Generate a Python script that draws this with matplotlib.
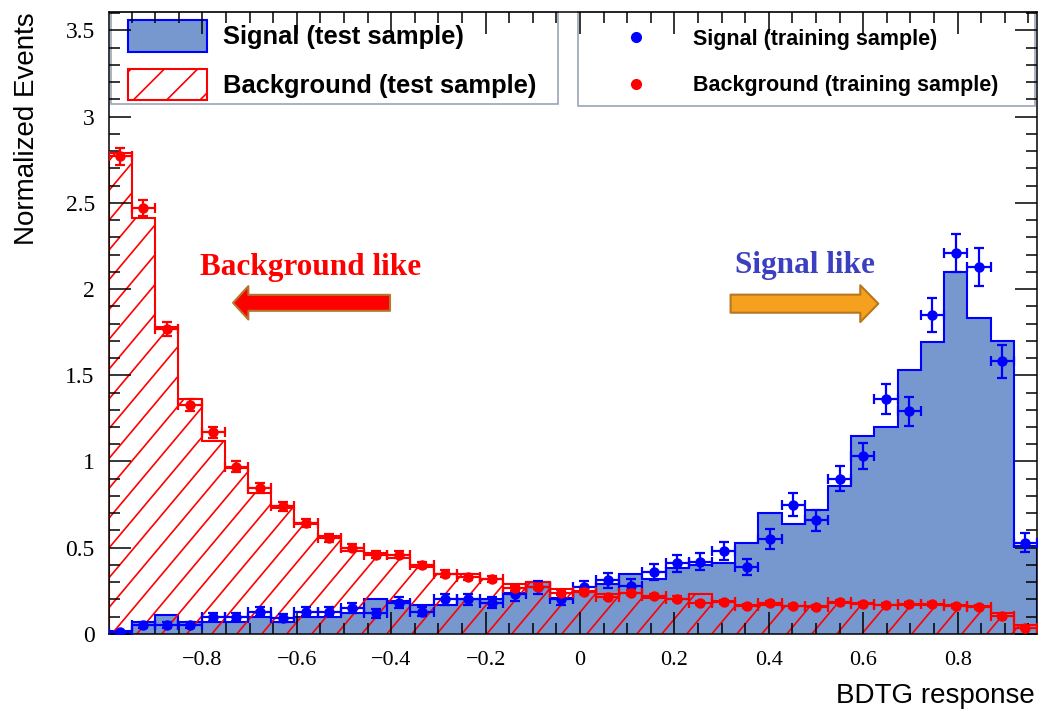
import numpy as np
import matplotlib
matplotlib.use('Agg')
import matplotlib.pyplot as plt
from matplotlib.collections import LineCollection
from matplotlib.patches import Patch, Rectangle
from matplotlib.lines import Line2D
from matplotlib.ticker import MultipleLocator, FuncFormatter

# BDTG response range and binning
x_min, x_max = -0.9985, 0.968
n_bins = 40

# test samples (histograms)
sig_test = [0.02, 0.07, 0.11, 0.07, 0.07, 0.07, 0.10, 0.07, 0.10, 0.10,
            0.12, 0.20, 0.19, 0.17, 0.17, 0.20, 0.20, 0.24, 0.30, 0.21,
            0.25, 0.29, 0.35, 0.32, 0.38, 0.40, 0.41, 0.53, 0.70, 0.64,
            0.72, 0.86, 1.15, 1.20, 1.53, 1.69, 2.10, 1.83, 1.70, 0.51]
bkg_test = [2.79, 2.41, 1.78, 1.36, 1.12, 0.96, 0.82, 0.73, 0.64, 0.57,
            0.48, 0.47, 0.44, 0.39, 0.35, 0.35, 0.32, 0.29, 0.30, 0.26,
            0.25, 0.23, 0.24, 0.21, 0.20, 0.23, 0.19, 0.17, 0.17, 0.16,
            0.16, 0.18, 0.18, 0.17, 0.17, 0.17, 0.17, 0.16, 0.12, 0.05]

# training samples (points with errors)
sig_train = [0.01, 0.05, 0.05, 0.05, 0.10, 0.10, 0.13, 0.09, 0.13, 0.13,
             0.15, 0.12, 0.18, 0.13, 0.20, 0.20, 0.18, 0.23, 0.27, 0.20,
             0.27, 0.31, 0.28, 0.36, 0.41, 0.42, 0.48, 0.39, 0.55, 0.75,
             0.66, 0.90, 1.03, 1.36, 1.29, 1.85, 2.21, 2.13, 1.58, 0.53]
sig_train_err = [0.010, 0.017, 0.017, 0.017, 0.024, 0.024, 0.027, 0.023, 0.027, 0.027,
                 0.029, 0.026, 0.032, 0.027, 0.034, 0.034, 0.032, 0.036, 0.039, 0.034,
                 0.039, 0.042, 0.040, 0.045, 0.048, 0.049, 0.052, 0.047, 0.056, 0.065,
                 0.061, 0.071, 0.076, 0.087, 0.085, 0.100, 0.110, 0.110, 0.094, 0.055]
bkg_train = [2.77, 2.47, 1.77, 1.33, 1.17, 0.97, 0.845, 0.74, 0.645, 0.555,
             0.50, 0.46, 0.46, 0.40, 0.35, 0.33, 0.32, 0.265, 0.275, 0.24,
             0.245, 0.215, 0.24, 0.22, 0.205, 0.18, 0.185, 0.16, 0.18, 0.16,
             0.155, 0.185, 0.175, 0.17, 0.175, 0.175, 0.16, 0.155, 0.105, 0.035]
bkg_train_err = [0.050, 0.047, 0.040, 0.035, 0.032, 0.030, 0.028, 0.026, 0.024, 0.022,
                 0.021, 0.020, 0.020, 0.019, 0.018, 0.017, 0.017, 0.016, 0.016, 0.015,
                 0.015, 0.014, 0.015, 0.014, 0.014, 0.013, 0.013, 0.012, 0.013, 0.012,
                 0.012, 0.013, 0.013, 0.012, 0.013, 0.013, 0.012, 0.012, 0.010, 0.006]

edges = np.linspace(x_min, x_max, n_bins + 1)
centers = 0.5 * (edges[1:] + edges[:-1])
half_w = 0.5 * (edges[1] - edges[0])

sig_fill = '#7797cf'
frame_col = '#9aa5b8'
serif = 'Liberation Serif'
sans = 'Liberation Sans'
plt.rcParams['hatch.linewidth'] = 1.2

fig = plt.figure(figsize=(10.39, 7.12), dpi=100)
ax_rect = [0.1046, 0.1096, 0.8934, 0.8735]
ax = fig.add_axes(ax_rect)

# signal test histogram
ax.stairs(sig_test, edges, fill=True, color=sig_fill, zorder=1)
ax.stairs(sig_test, edges, color='blue', lw=1.5, zorder=1.2)

# background test histogram, hatched by hand (ROOT style spacing / angle)
area = ax.stairs(bkg_test, edges, fill=True, facecolor='none', edgecolor='none', zorder=1.3)
ax_w = ax_rect[2] * 1039
ax_h = ax_rect[3] * 712
spacing = 25 / ax_w
dx = ax_h / ax_w / np.tan(np.radians(50))
offs = np.arange(-dx, 1 + spacing, spacing)
hatch = LineCollection([[(c, 0), (c + dx, 1)] for c in offs], colors='red',
                       linewidths=1.2, transform=ax.transAxes, zorder=1.4)
hatch.set_clip_path(area)
ax.add_collection(hatch, autolim=False)
ax.stairs(bkg_test, edges, color='red', lw=1.5, zorder=1.5)

# training samples
ax.errorbar(centers, sig_train, xerr=half_w, yerr=sig_train_err, fmt='o', color='blue',
            ms=6.5, lw=1.6, capsize=3.5, capthick=1.6, zorder=3)
ax.errorbar(centers, bkg_train, xerr=half_w, yerr=bkg_train_err, fmt='o', color='red',
            ms=6.5, lw=1.6, capsize=3.5, capthick=1.6, zorder=3.1)

# annotations
ax.text(-0.570, 2.081, 'Background like', color='red', fontsize=22.5, fontweight='bold',
        family=serif, ha='center', va='baseline')
ax.text(0.477, 2.091, 'Signal like', color='#3a40bf', fontsize=22.5, fontweight='bold',
        family=serif, ha='center', va='baseline')
ax.annotate('', xy=(-0.735, 1.92), xytext=(-0.4025, 1.92),
            arrowprops=dict(arrowstyle='simple,head_length=1.1,head_width=2.4,tail_width=1.15',
                            mutation_scale=10, fc='red', ec='#b5752b', lw=1.5,
                            shrinkA=0, shrinkB=0))
ax.annotate('', xy=(0.632, 1.915), xytext=(0.319, 1.915),
            arrowprops=dict(arrowstyle='simple,head_length=1.3,head_width=2.65,tail_width=1.3',
                            mutation_scale=10, fc='#f5a01f', ec='#b8771e', lw=1.5,
                            shrinkA=0, shrinkB=0))

# axes
ax.set_xlim(x_min, x_max)
ax.set_ylim(0, 3.606)
ax.xaxis.set_major_locator(MultipleLocator(0.2))
ax.xaxis.set_minor_locator(MultipleLocator(0.05))
ax.yaxis.set_major_locator(MultipleLocator(0.5))
ax.yaxis.set_minor_locator(MultipleLocator(0.1))
fmt = FuncFormatter(lambda v, p: f'{round(v, 6):g}'.replace('-', '\u2212'))
ax.xaxis.set_major_formatter(fmt)
ax.yaxis.set_major_formatter(fmt)
ax.tick_params(which='both', direction='in', top=True, right=True, width=1.1)
ax.tick_params(which='major', length=16)
ax.tick_params(which='minor', length=8)
ax.tick_params(axis='x', pad=12, labelsize=16)
ax.tick_params(axis='y', pad=10, labelsize=17)
for lab in ax.get_xticklabels() + ax.get_yticklabels():
    lab.set_fontfamily(serif)
for sp in ax.spines.values():
    sp.set_linewidth(1.1)
ax.set_axisbelow(False)

ax.set_ylabel('Normalized Events', fontsize=20, family=sans, loc='top')
ax.yaxis.set_label_coords(-0.074, 1.0)
ax.set_xlabel('BDTG response', fontsize=20, family=sans, loc='right')
ax.xaxis.set_label_coords(0.998, -0.079)

# legend frames (ROOT TLegend boxes)
for x0, y0, w, h in [(0.002, 0.852, 0.482, 0.148), (0.5055, 0.849, 0.4925, 0.151)]:
    ax.add_patch(Rectangle((x0, y0), w, h, transform=ax.transAxes, facecolor='white',
                           edgecolor=frame_col, lw=1.2, zorder=2.4, clip_on=False))

h_sig = Patch(facecolor=sig_fill, edgecolor='blue', lw=1.5)
h_bkg = Patch(facecolor='white', edgecolor='red', hatch='/', lw=1.5)
leg1 = ax.legend([h_sig, h_bkg], ['Signal (test sample)', 'Background (test sample)'],
                 loc='upper left', bbox_to_anchor=(0.0208, 0.987), borderaxespad=0,
                 prop=dict(family=sans, weight='bold', size=18.4),
                 handlelength=3.08, handleheight=1.53, handletextpad=0.62, labelspacing=0.66,
                 borderpad=0, frameon=False)
leg1.set_zorder(2.45)
ax.add_artist(leg1)

h_st = Line2D([], [], ls='none', marker='o', color='blue', ms=7)
h_bt = Line2D([], [], ls='none', marker='o', color='red', ms=7)
leg2 = ax.legend([h_st, h_bt], ['Signal (training sample)', 'Background (training sample)'],
                 loc='upper left', bbox_to_anchor=(0.5449, 0.9727), borderaxespad=0,
                 prop=dict(family=sans, weight='bold', size=15.5),
                 handlelength=2.0, handletextpad=1.65, labelspacing=1.18,
                 borderpad=0, frameon=False)
leg2.set_zorder(2.45)

fig.savefig('out.png', dpi=100)
